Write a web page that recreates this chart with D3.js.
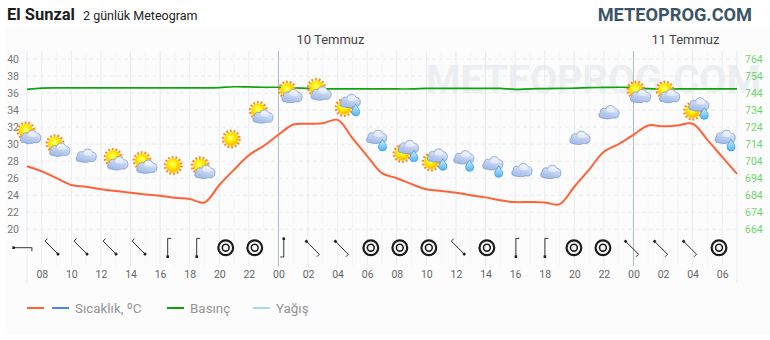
<!DOCTYPE html>
<html>
<head>
<meta charset="utf-8">
<script src="https://cdn.jsdelivr.net/npm/d3@7"></script>
<style>
  html, body { margin: 0; padding: 0; background: #fff; }
  text { font-family: Roboto, sans-serif; }
</style>
</head>
<body>
<div id="chart"></div>
<script>
const firstHour = 7;
const tempValues = [27.4, 26.8, 26.0, 25.2, 25.0, 24.7, 24.5, 24.3, 24.1, 23.95, 23.7, 23.55, 23.15, 25.2, 27.0, 28.7, 29.8,
  31.1, 32.3, 32.4, 32.45, 32.85, 30.7, 28.6, 26.6, 26.0, 25.3, 24.7, 24.5, 24.3, 24.0, 23.75, 23.4, 23.2, 23.2, 23.15, 22.95,
  25.0, 27.0, 29.1, 30.0, 31.1, 32.2, 32.1, 32.2, 32.4, 30.5, 28.5, 26.5];
const pressureValues = [746.2, 746.9, 747, 747, 747, 747, 747, 747, 747, 747, 747, 747, 747, 747.2, 747.7, 747.6, 747.4,
  747.4, 747.1, 746.8, 746.5, 746.4, 746.4, 746.4, 746.4, 746.4, 746.4, 746.7, 746.8, 746.8, 746.8, 746.8, 746.7, 746.2, 746.5, 746.6, 746.7,
  746.9, 747.2, 747.3, 747.4, 747.3, 746.6, 746.4, 746.4, 746.4, 746.4, 746.4, 746.4];

const tempTicks = [20, 22, 24, 26, 28, 30, 32, 34, 36, 38, 40];
const pressureTicks = [664, 674, 684, 694, 704, 714, 724, 734, 744, 754, 764];
const hourTicks = [8, 10, 12, 14, 16, 18, 20, 22, 24, 26, 28, 30, 32, 34, 36, 38, 40, 42, 44, 46, 48, 50, 52, 54];
const oddHours = [9, 11, 13, 15, 17, 19, 21, 23, 25, 27, 29, 31, 33, 35, 37, 39, 41, 43, 45, 47, 49, 51, 53];
const dayStarts = [24, 48];
const dayLabels = ["10 Temmuz", "11 Temmuz"];

// one icon per 2h slot, level is read against the temperature axis
const skyTypes = ["sc", "sc", "c", "sc", "sc", "s", "sc", "s", "sc", "sc", "sc", "scr", "cr", "scr", "scr", "cr", "cr", "c", "c", "c", "c", "sc", "sc", "scr", "cr"];
const skyLevels = [31.2, 29.7, 28.7, 28.1, 27.7, 27.5, 27.1, 30.6, 33.6, 36, 36.3, 34.5, 30.5, 29.1, 28.1, 28.1, 27.4, 27, 26.8, 30.8, 33.8, 36, 36, 34.1, 30.5];
// wind rotation in degrees, null = calm
const windAngles = [90, -45, -45, -45, -45, 0, 0, null, null, 180, 135, 135, null, null, null, -45, null, 0, 0, null, null, 135, 135, 135, null];

const legendLabels = ["Sıcaklık, ºC", "Basınç", "Yağış"];

const width = 770, height = 340;

const x = d3.scaleLinear().domain([7, 55]).range([27, 737]);
const yT = d3.scaleLinear().domain([20, 40]).range([229.3, 59]);
const yP = d3.scaleLinear().domain([664, 764]).range([229.3, 59]);
const slots = d3.range(skyTypes.length);
const xSky = d3.scalePoint().domain(slots).range([28, 725]);
const xWind = d3.scalePoint().domain(slots).range([22.6, 719]);

const svg = d3.select("#chart").append("svg")
  .attr("width", width).attr("height", height)
  .style("display", "block");

const defs = svg.append("defs");
const cloudGrad = defs.append("linearGradient").attr("id", "cloudGrad")
  .attr("x1", 0.7).attr("y1", 0).attr("x2", 0.3).attr("y2", 1);
cloudGrad.append("stop").attr("offset", "0%").attr("stop-color", "#eef2fa");
cloudGrad.append("stop").attr("offset", "50%").attr("stop-color", "#c2d2ef");
cloudGrad.append("stop").attr("offset", "100%").attr("stop-color", "#9db8e8");
const sunGrad = defs.append("radialGradient").attr("id", "sunGrad")
  .attr("cx", 0.45).attr("cy", 0.4);
sunGrad.append("stop").attr("offset", "0%").attr("stop-color", "#ffffa0");
sunGrad.append("stop").attr("offset", "45%").attr("stop-color", "#fff700");
sunGrad.append("stop").attr("offset", "100%").attr("stop-color", "#ffc400");
const dropGrad = defs.append("linearGradient").attr("id", "dropGrad")
  .attr("x1", 0).attr("y1", 0).attr("x2", 0).attr("y2", 1);
dropGrad.append("stop").attr("offset", "0%").attr("stop-color", "#d4f0fd");
dropGrad.append("stop").attr("offset", "100%").attr("stop-color", "#4fb4f5");

// panel
svg.append("rect").attr("x", 5).attr("y", 27).attr("width", 765).attr("height", 308).attr("fill", "#fcfcfc");

// header
svg.append("text").attr("x", 7).attr("y", 20).attr("font-size", 16.5).attr("font-weight", 700).attr("fill", "#1c1c1c").text("El Sunzal");
svg.append("text").attr("x", 83).attr("y", 20).attr("font-size", 12.5).attr("fill", "#222").text("2 günlük Meteogram");
svg.append("text").attr("x", 752).attr("y", 21).attr("text-anchor", "end").attr("font-size", 18.2).attr("font-weight", 700).attr("fill", "#3a5566").text("METEOPROG.COM");

// watermark
svg.append("text").attr("x", 426).attr("y", 93).attr("font-size", 39.5).attr("font-weight", 700)
  .attr("fill", "#eceef1").text("METEOPROG.COM");

// grid
svg.append("g").selectAll("line").data(oddHours).join("line")
  .attr("x1", d => x(d)).attr("x2", d => x(d))
  .attr("y1", 51).attr("y2", 266)
  .attr("stroke", "#f5f6f8");

svg.append("g").selectAll("line").data(tempTicks).join("line")
  .attr("x1", 26).attr("x2", 737)
  .attr("y1", d => yT(d)).attr("y2", d => yT(d))
  .attr("stroke", "#ececec").attr("stroke-dasharray", "4,3");

svg.append("g").selectAll("line").data(hourTicks.filter(h => !dayStarts.includes(h))).join("line")
  .attr("x1", d => x(d)).attr("x2", d => x(d))
  .attr("y1", 51).attr("y2", 266)
  .attr("stroke", "#e7ebf0");

svg.append("g").selectAll("line").data([7, 55]).join("line")
  .attr("x1", d => x(d)).attr("x2", d => x(d))
  .attr("y1", 51).attr("y2", 283)
  .attr("stroke", "#e7ebf0");

svg.append("g").selectAll("line").data(dayStarts).join("line")
  .attr("x1", d => x(d)).attr("x2", d => x(d))
  .attr("y1", 51).attr("y2", 266)
  .attr("stroke", "#aebbc4");

// axes
const axisLeft = svg.append("g").attr("transform", "translate(22,0)")
  .call(d3.axisLeft(yT).tickValues(tempTicks).tickSize(0).tickPadding(0));
axisLeft.select(".domain").remove();
axisLeft.selectAll("text").attr("font-family", "Roboto").attr("font-size", 10.5).attr("fill", "#777")
  .attr("x", -3);

const axisRight = svg.append("g").attr("transform", "translate(745,0)")
  .call(d3.axisRight(yP).tickValues(pressureTicks).tickSize(0).tickPadding(0));
axisRight.select(".domain").remove();
axisRight.selectAll("text").attr("font-family", "Roboto").attr("font-size", 10.5).attr("fill", "#6ed46e");

const axisBottom = svg.append("g").attr("transform", "translate(0,271)")
  .call(d3.axisBottom(x).tickValues(hourTicks).tickSize(0).tickPadding(0)
    .tickFormat(h => String(h % 24).padStart(2, "0")));
axisBottom.select(".domain").remove();
axisBottom.selectAll("text").attr("font-family", "Roboto").attr("font-size", 10.5).attr("fill", "#666");

// day labels
svg.append("g").selectAll("text").data(dayLabels).join("text")
  .attr("x", (d, i) => x(dayStarts[i]) + 52)
  .attr("y", 44)
  .attr("text-anchor", "middle")
  .attr("font-size", 13)
  .attr("fill", "#444")
  .text(d => d);

// lines
const line = yScale => d3.line()
  .x((d, i) => x(firstHour + i))
  .y(d => yScale(d))
  .curve(d3.curveCatmullRom.alpha(.5));

svg.append("path").datum(pressureValues)
  .attr("fill", "none").attr("stroke", "#0da50d").attr("stroke-width", 1.7)
  .attr("d", line(yP));

svg.append("path").datum(tempValues)
  .attr("fill", "none").attr("stroke", "#ff6236").attr("stroke-width", 2)
  .attr("stroke-linejoin", "round")
  .attr("d", line(yT));

// weather icons
const cloudPath = "M-7,6 C-10,7 -11,2 -8.5,0.5 C-9,-3 -5,-4.5 -3,-3 C-2,-7 5,-7.5 6,-3 C9,-3.5 11,0 10,2.5 C10,6 6,7 4,6 C2,7.5 -4,7.5 -7,6 Z";
const dropPath = "M0,-5.5 C1.5,-2.5 4,-0.5 4,2 A4,4 0 0 1 -4,2 C-4,-0.5 -1.5,-2.5 0,-5.5 Z";

function drawSun(g, dx, dy) {
  g.append("circle").attr("cx", dx).attr("cy", dy).attr("r", 8.2)
    .attr("fill", "none").attr("stroke", "#ff8c10").attr("stroke-width", 2.6).attr("stroke-dasharray", "1.8,1.9");
  g.append("circle").attr("cx", dx).attr("cy", dy).attr("r", 7).attr("fill", "url(#sunGrad)");
}
function drawCloud(g, dx, dy) {
  g.append("path").attr("transform", `translate(${dx},${dy})`).attr("d", cloudPath)
    .attr("fill", "url(#cloudGrad)").attr("stroke", "#7f9bd2").attr("stroke-width", 0.8);
  g.append("ellipse").attr("cx", dx + 2).attr("cy", dy - 2).attr("rx", 4.5).attr("ry", 2.6)
    .attr("fill", "#fff").attr("opacity", 0.45);
}
function drawDrop(g, dx, dy) {
  g.append("path").attr("transform", `translate(${dx},${dy})`).attr("d", dropPath)
    .attr("fill", "url(#dropGrad)").attr("stroke", "#3a9fe8").attr("stroke-width", 0.8);
}

svg.append("g").selectAll("g").data(slots).join("g")
  .attr("transform", i => `translate(${xSky(i)},${yT(skyLevels[i])})`)
  .each(function(i) {
    const g = d3.select(this);
    const t = skyTypes[i];
    if (t === "s") drawSun(g, 0, 0);
    if (t === "c") drawCloud(g, 0, 0);
    if (t === "sc") { drawSun(g, -2, -3); drawCloud(g, 2.5, 2.5); }
    if (t === "scr") { drawSun(g, -3.4, 1.7); drawCloud(g, 2.6, -5.3); drawDrop(g, 8.3, 4); }
    if (t === "cr") { drawCloud(g, 0, -3.5); drawDrop(g, 6, 5); }
  });

// wind row
svg.append("g").selectAll("g").data(slots).join("g")
  .attr("transform", i => `translate(${xWind(i)},247.7)`)
  .each(function(i) {
    const g = d3.select(this);
    const a = windAngles[i];
    if (a === null) {
      g.append("circle").attr("r", 7.4).attr("fill", "none").attr("stroke", "#1c1c1c").attr("stroke-width", 2.2);
      g.append("circle").attr("r", 3.4).attr("fill", "none").attr("stroke", "#1c1c1c").attr("stroke-width", 1.6);
    } else {
      const w = g.append("g").attr("transform", `rotate(${a})`);
      w.append("path").attr("d", "M3.5,-9.3 L0,-9.3 L0,9").attr("fill", "none").attr("stroke", "#222").attr("stroke-width", 0.9);
      w.append("rect").attr("x", -1.3).attr("y", 7.7).attr("width", 2.6).attr("height", 2.6).attr("fill", "#222");
    }
  });

// legend
const legendLines = [
  { x: 27, c: "#ff6236" }, { x: 52, c: "#4488ee" }, { x: 167, c: "#0da50d" }, { x: 253, c: "#a4dcec" }
];
svg.append("g").selectAll("line").data(legendLines).join("line")
  .attr("x1", d => d.x).attr("x2", d => d.x + 17)
  .attr("y1", 308).attr("y2", 308)
  .attr("stroke", d => d.c).attr("stroke-width", 2);

const legendX = [75, 190, 276];
svg.append("g").selectAll("text").data(legendLabels).join("text")
  .attr("x", (d, i) => legendX[i]).attr("y", 313)
  .attr("font-size", 13.4).attr("fill", "#949494")
  .text(d => d);
</script>
</body>
</html>
